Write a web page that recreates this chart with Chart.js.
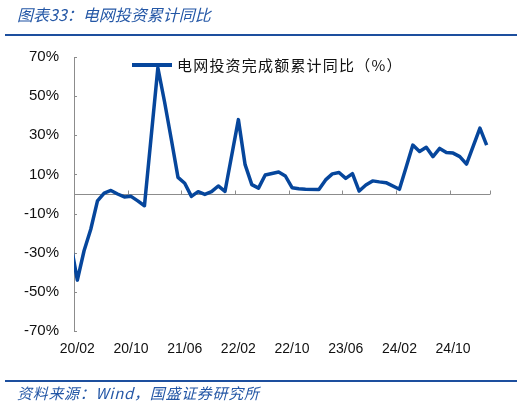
<!DOCTYPE html>
<html lang="zh">
<head>
<meta charset="UTF-8">
<title>电网投资累计同比</title>
<style>
  html, body { margin: 0; padding: 0; background: #fff; }
  #wrap { position: relative; width: 526px; height: 407px; overflow: hidden; }
  #canvas { position: absolute; left: 0; top: 0; }
  .rule { position: absolute; left: 5px; width: 512px; height: 2px; background: #1d4f9e; }
  .note { position: absolute; left: 17px; font-family: "Noto Sans CJK SC", sans-serif; font-style: italic; color: #2457a6; white-space: nowrap; }
  #legend { position: absolute; left: 132px; top: 54px; height: 22px; font-family: "Noto Sans CJK SC", sans-serif; font-size: 15px; line-height: 22px; letter-spacing: 1.2px; color: #111; white-space: nowrap; }
  #legend i { position: absolute; left: 0; top: 9px; width: 40px; height: 3.5px; background: #06469c; }
  #legend span { position: absolute; left: 45px; top: 0; }
</style>
</head>
<body>
<div id="wrap">
  <canvas id="canvas" width="526" height="407"></canvas>
  <div class="note" style="top:3px;font-size:16px;line-height:22px;">图表33：电网投资累计同比</div>
  <div class="rule" style="top:34px;"></div>
  <div id="legend"><i></i><span>电网投资完成额累计同比（%）</span></div>
  <div class="rule" style="top:380px;"></div>
  <div class="note" style="top:383px;font-size:15px;line-height:20px;letter-spacing:0.7px;">资料来源：Wind，国盛证券研究所</div>
</div>
<script src="https://cdn.jsdelivr.net/npm/chart.js@4.4.1/dist/chart.umd.min.js"></script>
<script>
'use strict';

// months (20/01 sits just left of the axis; later Januarys are not published)
var months = [
  '20/01', '20/02', '20/03', '20/04', '20/05', '20/06', '20/07', '20/08', '20/09', '20/10', '20/11', '20/12',
  '21/01', '21/02', '21/03', '21/04', '21/05', '21/06', '21/07', '21/08', '21/09', '21/10', '21/11', '21/12',
  '22/01', '22/02', '22/03', '22/04', '22/05', '22/06', '22/07', '22/08', '22/09', '22/10', '22/11', '22/12',
  '23/01', '23/02', '23/03', '23/04', '23/05', '23/06', '23/07', '23/08', '23/09', '23/10', '23/11', '23/12',
  '24/01', '24/02', '24/03', '24/04', '24/05', '24/06', '24/07', '24/08', '24/09', '24/10', '24/11', '24/12',
  '25/01', '25/02', '25/03'
];

// 电网投资完成额累计同比 (%)
var gridInvestYoY = [
  -25, -44, -29, -18, -3.5, 0.5, 1.8, 0, -1.5, -1.2, -3.5, -6,
  null, 64.5, 47, 28, 8.5, 5.5, -1.2, 1.2, -0.2, 1.2, 4.1, 1.3,
  null, 38, 15, 4.8, 3, 9.7, 10.5, 11.2, 9.2, 3.2, 2.7, 2.4,
  null, 2.3, 7.2, 10.3, 11, 8, 10.4, 1.5, 4.6, 6.7, 6.2, 5.8,
  null, 2.4, 13.7, 25, 21.7, 23.9, 19.1, 23.3, 21.2, 20.9, 19.1, 15.3,
  null, 33.7, 25
];

var tickLabels = ['20/02', '20/10', '21/06', '22/02', '22/10', '23/06', '24/02', '24/10'];
var firstMonth = '20/02';
var lastMonth = '25/03';

var LINE_BLUE = '#06469c';
var AXIS_GREY = '#8c8c8c';

var points = gridInvestYoY.map(function(v, i) {
  return { x: i, y: v };
});

// zero line, inside tick marks on both axes
var axisMarks = {
  id: 'axisMarks',
  beforeDatasetsDraw: function(chart) {
    var ctx = chart.ctx;
    var xs = chart.scales.x;
    var ys = chart.scales.y;
    var area = chart.chartArea;
    var y0 = Math.round(ys.getPixelForValue(0)) + 0.5;

    ctx.save();
    ctx.strokeStyle = AXIS_GREY;
    ctx.lineWidth = 1;
    ctx.beginPath();
    ctx.moveTo(area.left, y0);
    ctx.lineTo(area.right, y0);

    // x tick marks sit between categories, one every 8 months
    tickLabels.forEach(function(lbl, i) {
      if (i === 0) return;
      var px = Math.round(xs.getPixelForValue(months.indexOf(lbl) - 0.5)) + 0.5;
      ctx.moveTo(px, y0);
      ctx.lineTo(px, y0 - 4);
    });
    var px = Math.round(xs.getPixelForValue(months.indexOf(lastMonth) + 0.5)) + 0.5;
    ctx.moveTo(px, y0);
    ctx.lineTo(px, y0 - 4);

    ys.ticks.forEach(function(t) {
      var py = Math.round(ys.getPixelForValue(t.value)) + 0.5;
      ctx.moveTo(area.left, py);
      ctx.lineTo(area.left + 3, py);
    });
    ctx.stroke();
    ctx.restore();
  }
};

var config = {
  type: 'line',
  data: {
    datasets: [{
      label: '电网投资完成额累计同比（%）',
      data: points,
      borderColor: LINE_BLUE,
      backgroundColor: LINE_BLUE,
      borderWidth: 3.5,
      pointRadius: 0,
      tension: 0,
      spanGaps: true,
      borderJoinStyle: 'round'
    }]
  },
  options: {
    responsive: false,
    animation: false,
    layout: {
      padding: { top: 57, right: 36, bottom: 0, left: 0 }
    },
    plugins: {
      legend: { display: false },
      tooltip: { enabled: false }
    },
    scales: {
      x: {
        type: 'linear',
        min: months.indexOf(firstMonth) - 0.5,
        max: months.indexOf(lastMonth) + 0.5,
        grid: { display: false, drawTicks: false },
        border: { display: false },
        afterBuildTicks: function(scale) {
          scale.ticks = tickLabels.map(function(l) {
            return { value: months.indexOf(l) };
          });
        },
        afterFit: function(scale) {
          scale.height = 76;
        },
        ticks: {
          autoSkip: false,
          maxRotation: 0,
          padding: 10,
          color: '#111',
          font: { family: 'Liberation Sans', size: 14 },
          callback: function(v) {
            return months[v];
          }
        }
      },
      y: {
        min: -70,
        max: 70,
        grid: { display: false, drawTicks: false },
        border: { display: true, color: AXIS_GREY, width: 1 },
        afterFit: function(scale) {
          scale.width = 74;
        },
        ticks: {
          stepSize: 20,
          padding: 15,
          color: '#111',
          font: { family: 'Liberation Sans', size: 15 },
          callback: function(v) {
            return v + '%';
          }
        }
      }
    }
  },
  plugins: [axisMarks]
};

var ctx = document.getElementById('canvas').getContext('2d');
var chart = new Chart(ctx, config);
</script>
</body>
</html>
